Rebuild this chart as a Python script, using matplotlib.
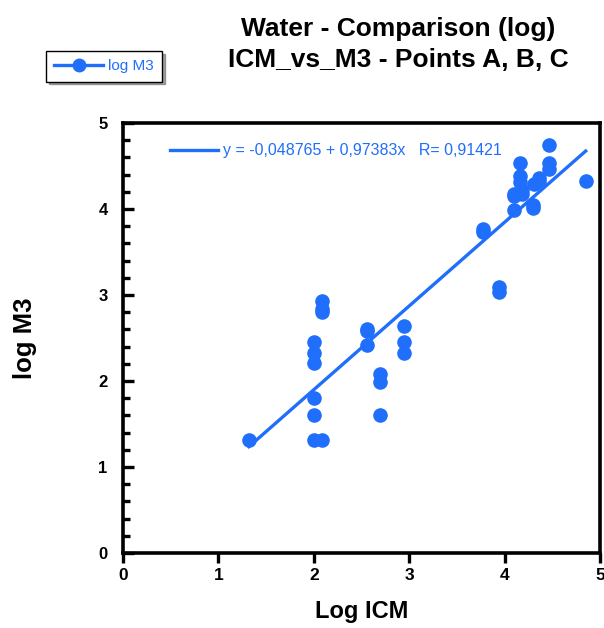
import numpy as np
import matplotlib.pyplot as plt
from matplotlib.ticker import MultipleLocator

# data
log_icm = [1.32, 2.00, 2.00, 2.00, 2.00, 2.00, 2.00, 2.09, 2.09, 2.09, 2.09,
           2.56, 2.56, 2.56, 2.69, 2.69, 2.69, 2.95, 2.95, 2.95,
           3.77, 3.77, 3.94, 3.94,
           4.10, 4.10, 4.10, 4.16, 4.16, 4.16, 4.18, 4.18,
           4.30, 4.30, 4.31, 4.36, 4.36,
           4.47, 4.47, 4.47, 4.85]
log_m3 = [1.31, 2.45, 2.33, 2.21, 1.80, 1.60, 1.31, 1.31, 2.80, 2.84, 2.93,
          2.61, 2.58, 2.42, 2.08, 1.99, 1.60, 2.64, 2.45, 2.33,
          3.73, 3.77, 3.04, 3.09,
          4.15, 4.17, 3.99, 4.54, 4.38, 4.31, 4.18, 4.22,
          4.05, 4.01, 4.29, 4.36, 4.33,
          4.74, 4.54, 4.47, 4.33]

# regression shown in the chart
intercept = -0.048765
slope = 0.97383
r_value = 0.91421

blue = '#1f6efc'
plt.rcParams['font.family'] = ['Liberation Sans', 'DejaVu Sans']

fig = plt.figure(figsize=(6.04, 6.28), dpi=100)
ax = fig.add_axes([0.2036, 0.1194, 0.7898, 0.6847])

pts, = ax.plot(log_icm, log_m3, 'o', color=blue, markersize=10.5,
               markeredgewidth=0, label='log M3')

x_fit = np.array([min(log_icm), max(log_icm)])
fit_label = f'y = {intercept:.6f} + {slope:.5f}x   R= {r_value:.5f}'.replace('.', ',')
fit, = ax.plot(x_fit, intercept + slope * x_fit, '-', color=blue, linewidth=2.4,
               label=fit_label)

ax.set_xlim(0, 5)
ax.set_ylim(0, 5)
ax.xaxis.set_major_locator(MultipleLocator(1))
ax.yaxis.set_major_locator(MultipleLocator(1))
ax.yaxis.set_minor_locator(MultipleLocator(0.2))
ax.tick_params(axis='x', direction='out', length=7, width=2.4, labelsize=12.5, pad=4)
ax.tick_params(axis='y', which='major', direction='in', length=8, width=2.4,
               labelsize=12, pad=11)
ax.tick_params(axis='y', which='minor', direction='in', length=5, width=2.4)
ax.tick_params(top=False, right=False)
for lbl in ax.get_xticklabels() + ax.get_yticklabels():
    lbl.set_fontweight('bold')
for s in ax.spines.values():
    s.set_linewidth(2.6)

ax.set_xlabel('Log ICM', fontsize=17, fontweight='bold', labelpad=12)
ax.set_ylabel('log M3', fontsize=18.5, fontweight='bold', labelpad=44)

ax.legend(handles=[fit], loc='center left', bbox_to_anchor=(0.085, 0.935),
          borderaxespad=0, frameon=False, fontsize=11.5, labelcolor=blue,
          handlelength=3.0, handletextpad=0.3)

fig.text(0.659, 0.973, 'Water - Comparison (log)\nICM_vs_M3 - Points A, B, C',
         ha='center', va='top', fontsize=19, fontweight='bold', linespacing=1.38)

pts_handle = plt.Line2D([], [], color=blue, marker='o', markersize=9, linewidth=2.4)
fig.legend(handles=[pts_handle], labels=['log M3'], loc='upper left',
           bbox_to_anchor=(0.0762, 0.919), borderaxespad=0, fancybox=False,
           shadow=True, edgecolor='black', fontsize=11, labelcolor=blue,
           handlelength=3.2, handletextpad=0.3, borderpad=0.55, framealpha=1)

fig.savefig('out.png', dpi=100)
